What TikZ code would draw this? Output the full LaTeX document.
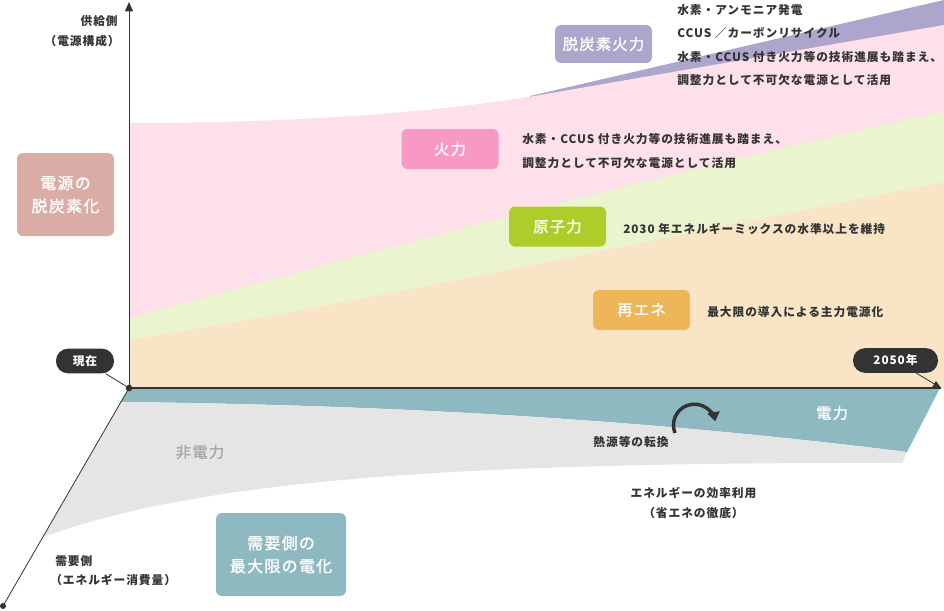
\documentclass[tikz,border=0pt]{standalone}
\usepackage{fontspec}
\setmainfont{Noto Sans CJK JP}[LetterSpace=8]
\newfontfamily\labelfont{Noto Sans CJK JP}[LetterSpace=8,FakeBold=1.2]
\usetikzlibrary{arrows.meta}
\definecolor{ink}{HTML}{333333}
\definecolor{firepink}{HTML}{FDE0EA}
\definecolor{nucgreen}{HTML}{EAF4CF}
\definecolor{reorange}{HTML}{F9E5C6}
\definecolor{lavender}{HTML}{ADA5CB}
\definecolor{elteal}{HTML}{8EB9C1}
\definecolor{nongrey}{HTML}{E5E5E5}
\definecolor{decarb}{HTML}{D9ADA5}
\definecolor{firebox}{HTML}{F899C5}
\definecolor{nucbox}{HTML}{AECD2B}
\definecolor{rebox}{HTML}{EDB657}
\definecolor{greytext}{HTML}{A8A8A8}
\newcommand{\note}{\fontsize{8.8}{10}\selectfont\bfseries}
\newcommand{\lbl}{\labelfont\fontsize{11.5}{17.3}\selectfont}
\newcommand{\biglbl}{\labelfont\fontsize{12}{17.3}\selectfont}
\tikzset{
  srcbox/.style={rounded corners=4.5pt,minimum width=72.75pt,minimum height=30pt,inner sep=0,text=white,font=\lbl},
  bigbox/.style={srcbox,minimum height=62.25pt,align=center,font=\biglbl},
  pill/.style={fill=ink,rounded corners=9pt,minimum height=18.5pt,inner sep=0,text=white,font=\note},
  notetext/.style={anchor=west,inner sep=0,text=ink,font=\note},
  dot/.style={circle,fill=ink,inner sep=0,minimum size=5pt},
  axis/.style={ink,line width=0.6pt},
}

\begin{document}
\begin{tikzpicture}[x=0.75pt,y=-0.75pt]
\useasboundingbox (0,0) rectangle (944,610);
% supply side
\fill[lavender] (530,96) -- (944,0) -- (944,40) -- (530,106) -- cycle;
\fill[firepink] (129,388) -- (129,123) .. controls (300,123) and (440,112) .. (540,95) -- (944,25) -- (944,388) -- cycle;
\fill[nucgreen] (129,388) -- (129,318) .. controls (400,245) and (650,175) .. (944,112) -- (944,388) -- cycle;
\fill[reorange] (129,388) -- (129,340) .. controls (350,305) and (650,240) .. (944,182) -- (944,388) -- cycle;
% demand side
\fill[elteal] (129,388) -- (940,388) -- (907,452) .. controls (650,420) and (400,405) .. (121,402) -- cycle;
\fill[nongrey] (121,402) .. controls (400,405) and (650,420) .. (907,452) -- (902,463) .. controls (450,462) and (200,480) .. (43,537) -- cycle;

\node[dot] (origin) at (129,388) {};
\node[dot,minimum size=4.5pt] (zend) at (3,606) {};
\coordinate (ytop) at (129,2);
\coordinate (xend) at (941,388);
\draw[axis,-{Triangle[length=7pt,width=6pt]}] (origin.center) -- (ytop);
\draw[ink,line width=1pt] (origin.center) -- (xend);
\draw[axis] (origin.center) -- (zend.center);

\node[pill,minimum width=43.5pt] (now) at (85,361) {現在};
\node[pill,minimum width=63.75pt] (year) at (895.5,360.5) {2050年};
\draw[axis] (now) -- (origin);
\draw[axis,-{Triangle[length=6pt,width=5pt]}] (year) -- (xend);

\node[anchor=east,inner sep=0,text=ink,font=\note] (supply) at (118,21) {供給側};
\node[anchor=east,inner sep=0,text=ink,font=\note] (supply2) at (120,41) {（電源構成）};
\node[bigbox,fill=decarb] (decarbbox) at (65.5,194.5) {電源の\\脱炭素化};

\node[srcbox,fill=lavender,minimum height=28.5pt] (thermalc) at (603.5,44) {脱炭素火力};
\node[notetext] (t1) at (677,10) {水素・アンモニア発電};
\node[notetext] (t2) at (677,33) {CCUS ／カーボンリサイクル};
\node[notetext] (t3) at (677,57) {水素・CCUS 付き火力等の技術進展も踏まえ、};
\node[notetext] (t4) at (677,80) {調整力として不可欠な電源として活用};

\node[srcbox,fill=firebox] (thermal) at (450,149) {火力};
\node[notetext] (f1) at (522,139) {水素・CCUS 付き火力等の技術進展も踏まえ、};
\node[notetext] (f2) at (522,163) {調整力として不可欠な電源として活用};

\node[srcbox,fill=nucbox] (nuclear) at (557.5,226.5) {原子力};
\node[notetext] (n1) at (623,229) {2030 年エネルギーミックスの水準以上を維持};

\node[srcbox,fill=rebox] (renew) at (641.5,310) {再エネ};
\node[notetext] (r1) at (707,312) {最大限の導入による主力電源化};

\node[inner sep=0,text=white,font=\lbl] (power) at (832,413) {電力};
\node[inner sep=0,text=greytext,font=\lbl] (nonpower) at (200,452) {非電力};
\node[inner sep=0,text=ink,font=\note] (heat) at (631,442) {熱源等の転換};
\draw[ink,line width=2.6pt,-{Triangle[length=7pt,width=9pt]}] (675,433) arc (158:350:21);
\node[inner sep=0,text=ink,font=\note] (eff1) at (693.5,493) {エネルギーの効率利用};
\node[inner sep=0,text=ink,font=\note] (eff2) at (693.5,513) {（省エネの徹底）};

\node[bigbox,fill=elteal,minimum width=97.5pt] (elecbox) at (281,554.5) {需要側の\\最大限の電化};
\node[notetext] (demand) at (55,561) {需要側};
\node[notetext] (demand2) at (50,580) {（エネルギー消費量）};
\end{tikzpicture}
\end{document}
